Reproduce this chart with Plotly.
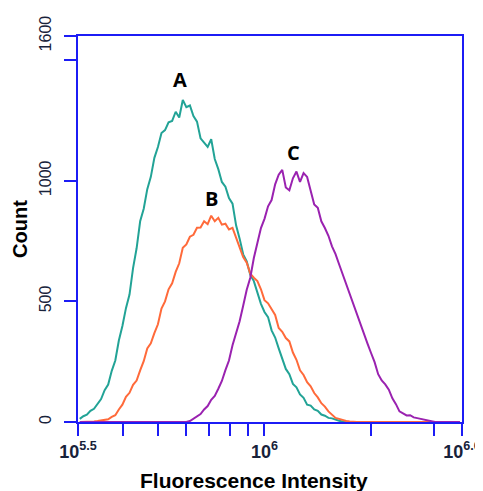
import plotly.graph_objects as go

# histogram channel positions (log10 of fluorescence intensity)
channel_exponents = [
    5.48, 5.49, 5.50, 5.51, 5.52, 5.53, 5.54, 5.55, 5.56, 5.57, 5.58, 5.59,
    5.60, 5.61, 5.62, 5.63, 5.64, 5.65, 5.66, 5.67, 5.68, 5.69, 5.70, 5.71,
    5.72, 5.73, 5.74, 5.75, 5.76, 5.77, 5.78, 5.79, 5.80, 5.81, 5.82, 5.83,
    5.84, 5.85, 5.86, 5.87, 5.88, 5.89, 5.90, 5.91, 5.92, 5.93, 5.94, 5.95,
    5.96, 5.97, 5.98, 5.99, 6.00, 6.01, 6.02, 6.03, 6.04, 6.05, 6.06, 6.07,
    6.08, 6.09, 6.10, 6.11, 6.12, 6.13, 6.14, 6.15, 6.16, 6.17, 6.18, 6.19,
    6.20, 6.21, 6.22, 6.23, 6.24, 6.25, 6.26, 6.27, 6.28, 6.29, 6.30, 6.31,
    6.32, 6.33, 6.34, 6.35, 6.36, 6.37, 6.38, 6.39, 6.40, 6.41, 6.42, 6.43,
    6.44, 6.45, 6.46, 6.47, 6.48, 6.49, 6.50, 6.51, 6.52, 6.53, 6.54, 6.55,
]

counts_A = [
    13, 24, 30, 46, 55, 76, 95, 132, 155, 212, 255, 338,
    398, 472, 528, 638, 720, 832, 884, 965, 1016, 1095, 1140, 1198,
    1210, 1242, 1248, 1286, 1262, 1335, 1305, 1312, 1268, 1245, 1176, 1158,
    1140, 1172, 1090, 1048, 995, 975, 928, 905, 815, 760, 695, 666,
    610, 584, 536, 490, 456, 435, 380, 350, 305, 262, 220, 198,
    158, 144, 114, 100, 72, 68, 52, 46, 31, 26, 17, 15,
    9, 5, 2, 0, 0, 0, 0, 0, 0, 0, 0, 0,
    0, 0, 0, 0, 0, 0, 0, 0, 0, 0, 0, 0,
    0, 0, 0, 0, 0, 0, 0, 0, 0, 0, 0, 0,
]

counts_B = [
    0, 0, 0, 1, 2, 4, 6, 8, 11, 21, 28, 52,
    72, 104, 121, 154, 172, 214, 252, 305, 326, 368, 405, 470,
    500, 550, 575, 622, 658, 722, 736, 768, 776, 805, 806, 832,
    820, 855, 832, 846, 818, 822, 798, 805, 765, 724, 684, 660,
    615, 598, 584, 550, 505, 492, 466, 444, 390, 374, 348, 334,
    288, 258, 214, 195, 165, 148, 120, 102, 78, 64, 44, 30,
    17, 13, 7, 4, 2, 0, 0, 0, 0, 0, 0, 0,
    0, 0, 0, 0, 0, 0, 0, 0, 0, 0, 0, 0,
    0, 0, 0, 0, 0, 0, 0, 0, 0, 0, 0, 0,
]

counts_C = [
    0, 0, 0, 0, 0, 0, 0, 0, 0, 0, 0, 0,
    0, 0, 0, 0, 0, 0, 0, 0, 0, 0, 0, 0,
    0, 0, 0, 0, 0, 0, 0, 4, 14, 24, 33, 52,
    66, 92, 108, 138, 170, 215, 255, 318, 365, 418, 482, 548,
    598, 680, 742, 804, 842, 894, 920, 985, 1025, 1045, 972, 960,
    1010, 1038, 995, 1032, 1016, 962, 902, 888, 832, 804, 772, 728,
    696, 654, 612, 578, 532, 494, 445, 408, 362, 325, 286, 248,
    198, 172, 156, 134, 98, 74, 44, 36, 27, 28, 19, 16,
    13, 10, 4, 2, 0, 0, 0, 0, 0, 0, 0, 0,
]

series_names = ["A", "B", "C"]
series_colors = ["#22a396", "#ff6a3a", "#9a22b0"]
label_positions = [(5.7625, 1418), (5.850, 928), (6.081, 1119)]

x_range_exponents = [5.475, 6.556]
x_tick_exponents = [5.475, 5.60206, 5.69897, 5.77815, 5.84510, 5.90309, 5.95424,
                    6.0, 6.30103, 6.47712, 6.556]
x_tick_text = ["10<sup>5.5</sup>", " ", " ", " ", " ", " ", " ", "10<sup>6</sup>", " ", " ",
               "10<sup>6.6</sup>"]
y_tick_vals = [0, 500, 1000, 1500, 1600]
y_tick_text = ["0", "500", "1000", " ", "1600"]
x_title = "Fluorescence Intensity"
y_title = "Count"

AXIS_BLUE = "#1c1cf5"
TICK_FONT = "#18223a"

x_values = [10 ** e for e in channel_exponents]

fig = go.Figure()
for name, color, counts in zip(series_names, series_colors, [counts_A, counts_B, counts_C]):
    fig.add_trace(go.Scatter(
        x=x_values, y=counts, mode="lines", name=name,
        line=dict(color=color, width=2), showlegend=False,
    ))

for name, (ex, cy) in zip(series_names, label_positions):
    fig.add_annotation(
        x=ex, y=cy, xref="x", yref="y", text="<b>%s</b>" % name, showarrow=False,
        font=dict(family="Open Sans", size=20, color="#000000"),
    )

# x-axis title placed slightly left of the plot centre, as in the original
fig.add_annotation(
    x=0.459, y=-0.151, xref="paper", yref="paper", xanchor="center", yanchor="middle",
    text="<b>%s</b>" % x_title, showarrow=False,
    font=dict(family="Liberation Sans", size=21, color="#000000"),
)

# the page adds an 8px body margin, so margins are offset accordingly
fig.update_layout(
    width=483, height=491,
    margin=dict(l=70, r=29, t=28, b=77, autoexpand=False),
    paper_bgcolor="white", plot_bgcolor="white",
    font=dict(family="Liberation Sans"),
)

fig.update_xaxes(
    type="log", range=x_range_exponents, automargin=False, tickangle=0,
    tickvals=[10 ** e for e in x_tick_exponents], ticktext=x_tick_text,
    ticks="outside", ticklen=12, tickwidth=2, tickcolor=AXIS_BLUE,
    showline=True, linecolor=AXIS_BLUE, linewidth=2, mirror=True,
    showgrid=False, zeroline=False,
    tickfont=dict(family="Liberation Sans", size=18, color=TICK_FONT, weight="bold"),
)

fig.update_yaxes(
    range=[0, 1600], automargin=False,
    tickvals=y_tick_vals, ticktext=y_tick_text, tickangle=-90,
    ticks="outside", ticklen=12, tickwidth=2, tickcolor=AXIS_BLUE,
    showline=True, linecolor=AXIS_BLUE, linewidth=2, mirror=True,
    showgrid=False, zeroline=False, ticklabelstandoff=7,
    tickfont=dict(family="Liberation Sans", size=16, color=TICK_FONT),
    title=dict(text="<b>%s</b>" % y_title, standoff=4,
               font=dict(family="Liberation Sans", size=20, color="#000000")),
)

fig.write_html("out.html")
